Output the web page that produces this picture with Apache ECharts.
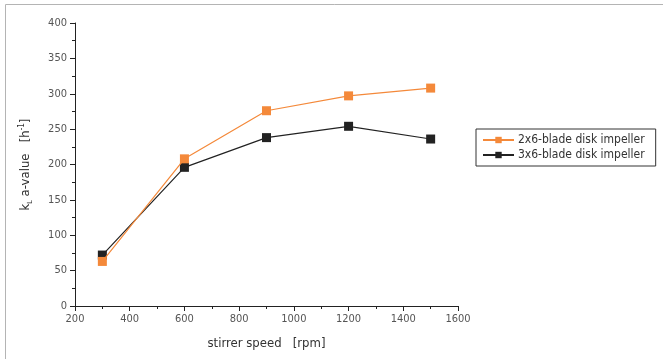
<!DOCTYPE html>
<html>
<head>
<meta charset="utf-8">
<script src="https://cdn.jsdelivr.net/npm/echarts@6/dist/echarts.min.js"></script>
<style>
  html, body { margin: 0; padding: 0; background: #fff; }
  #chart { width: 663px; height: 359px; }
</style>
</head>
<body>
<div id="chart"></div>
<script>
// kLa-Werte über Rührerdrehzahl, zwei Rührervarianten
const speeds = [300, 600, 900, 1200, 1500];
const kla2x6 = [63, 208, 276, 297, 308];
const kla3x6 = [72, 196, 238, 254, 236];
const seriesNames = ['2x6-blade disk impeller', '3x6-blade disk impeller'];
const colors = ['#f4893a', '#222222'];

const font = '"Liberation Sans Narrow", "DejaVu Sans Condensed", sans-serif';

const chartDom = document.getElementById('chart');
const myChart = echarts.init(chartDom, null, { renderer: 'canvas' });

function pairs(xs, ys) {
    return xs.map((x, i) => [x, ys[i]]);
}

const option = {
    animation: false,
    textStyle: { fontFamily: font },
    grid: { left: 75, right: 205, top: 23, bottom: 53 },
    graphic: [
        {
            // grauer Rahmen oben/links
            type: 'rect',
            shape: { x: 5.5, y: 4.5, width: 700, height: 400 },
            style: { fill: 'none', stroke: '#b4b4b4', lineWidth: 1 },
            silent: true
        }
    ],
    legend: {
        orient: 'vertical',
        left: 476,
        top: 129,
        padding: [5, 11, 5, 6],
        itemGap: 3,
        itemWidth: 31,
        itemHeight: 8,
        borderColor: '#333',
        borderWidth: 1,
        textStyle: { fontFamily: font, fontSize: 12, color: '#333', padding: [0, 0, 0, -1] },
        data: seriesNames
    },
    xAxis: {
        type: 'value',
        min: 200,
        max: 1600,
        interval: 200,
        name: 'stirrer speed   [rpm]',
        nameLocation: 'middle',
        nameGap: 31,
        nameTextStyle: { fontFamily: font, fontSize: 13, color: '#333' },
        axisLine: { lineStyle: { color: '#222', width: 1 } },
        axisTick: { show: true, length: 5, lineStyle: { color: '#222' } },
        minorTick: { show: true, splitNumber: 2, length: 3, lineStyle: { color: '#222' } },
        splitLine: { show: false },
        axisLabel: { fontFamily: font, fontSize: 11, color: '#555', margin: 8, formatter: v => String(v) }
    },
    yAxis: {
        type: 'value',
        min: 0,
        max: 400,
        interval: 50,
        name: '{n|k}{sub|L}{n| a-value   [h}{sup|-1}{n|]}',
        nameLocation: 'middle',
        nameGap: 41,
        nameTextStyle: {
            fontFamily: font,
            fontSize: 13,
            color: '#333',
            rich: {
                n: { fontFamily: font, fontSize: 13, color: '#333', lineHeight: 16 },
                sub: { fontFamily: font, fontSize: 7, color: '#333', padding: [8, 0, 0, 0], lineHeight: 16 },
                sup: { fontFamily: font, fontSize: 8, color: '#333', padding: [0, 0, 8, 0], lineHeight: 16 }
            }
        },
        axisLine: { show: true, lineStyle: { color: '#222', width: 1 } },
        axisTick: { show: true, length: 5, lineStyle: { color: '#222' } },
        minorTick: { show: true, splitNumber: 2, length: 3, lineStyle: { color: '#222' } },
        splitLine: { show: false },
        axisLabel: { fontFamily: font, fontSize: 11, color: '#555', margin: 8 }
    },
    series: [
        {
            name: seriesNames[0],
            type: 'line',
            data: pairs(speeds, kla2x6),
            symbol: 'rect',
            symbolSize: 9,
            color: colors[0],
            lineStyle: { color: colors[0], width: 1.2 },
            itemStyle: { color: colors[0] },
            z: 3
        },
        {
            name: seriesNames[1],
            type: 'line',
            data: pairs(speeds, kla3x6),
            symbol: 'rect',
            symbolSize: 9,
            color: colors[1],
            lineStyle: { color: colors[1], width: 1.2 },
            itemStyle: { color: colors[1] },
            z: 2
        }
    ]
};

option && myChart.setOption(option);
window.onresize = () => {
    myChart.resize();
};
</script>
</body>
</html>
